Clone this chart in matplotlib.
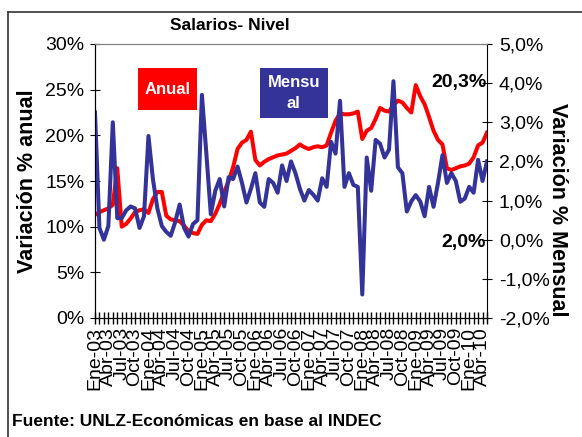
import matplotlib.pyplot as plt
from matplotlib.patches import Rectangle
from matplotlib.lines import Line2D
from matplotlib.ticker import FuncFormatter

plt.rcParams['font.family'] = ['Liberation Sans', 'DejaVu Sans']

# meses Ene-03 .. May-10
meses_abrev = ['Ene', 'Feb', 'Mar', 'Abr', 'May', 'Jun',
               'Jul', 'Ago', 'Sep', 'Oct', 'Nov', 'Dic']
periodos = [f'{m}-{a:02d}' for a in range(3, 11) for m in meses_abrev][:89]

# variación % anual (eje izquierdo)
anual = [11.3, 11.6, 11.8, 12.0, 12.4, 16.4, 10.0, 10.3, 10.9, 11.6,
         11.8, 11.9, 11.5, 13.0, 13.8, 13.8, 11.2, 10.8, 10.7, 10.6,
         10.1, 9.5, 9.3, 9.2, 10.2, 10.7, 10.6, 11.4, 12.5, 13.8,
         15.0, 16.5, 18.5, 19.2, 19.5, 20.4, 17.3, 16.7, 17.1, 17.4,
         17.6, 17.8, 17.9, 18.0, 18.3, 18.6, 19.0, 18.7, 18.5, 18.7,
         18.8, 18.7, 18.9, 20.3, 21.6, 22.4, 22.3, 22.3, 22.4, 22.6,
         19.6, 20.5, 20.8, 21.8, 23.0, 22.7, 22.6, 23.3, 23.8, 23.6,
         23.0, 22.5, 25.5, 24.3, 23.4, 22.0, 20.5, 19.5, 19.0, 16.4,
         16.2, 16.4, 16.6, 16.7, 16.9, 17.6, 18.9, 19.2, 20.3]

# variación % mensual (eje derecho)
mensual = [3.25, 0.3, 0.0, 0.35, 3.0, 0.55, 0.55, 0.75, 0.85, 0.8,
           0.3, 0.6, 2.65, 1.55, 0.8, 0.35, 0.2, 0.1, 0.45, 0.9,
           0.3, 0.08, 0.4, 0.5, 3.7, 2.2, 0.65, 1.25, 1.55, 0.85,
           1.6, 1.55, 1.87, 1.45, 0.95, 1.3, 1.7, 0.95, 0.84, 1.55,
           1.45, 1.2, 1.9, 1.5, 2.0, 1.7, 1.3, 1.0, 1.27, 1.15,
           1.0, 1.57, 1.35, 2.5, 2.2, 3.55, 1.35, 1.7, 1.4, 1.35,
           -1.4, 2.1, 1.25, 2.55, 2.45, 2.1, 2.3, 4.05, 1.85, 1.7,
           0.72, 0.98, 1.14, 0.98, 0.6, 1.35, 0.84, 1.45, 2.16, 1.45,
           1.7, 1.5, 0.97, 1.05, 1.35, 1.2, 2.04, 1.5, 2.0]

rojo = '#ff0000'
azul = '#333399'

fig = plt.figure(figsize=(5.82, 4.37), dpi=100)
ax = fig.add_axes([95 / 582, 1 - 318 / 437, 392 / 582, 274 / 437])
ax2 = ax.twinx()

x = list(range(len(periodos)))
ax.plot(x, anual, color=rojo, lw=2.9, solid_joinstyle='round')
ax2.plot(x, mensual, color=azul, lw=2.9, solid_joinstyle='round')

ax.set_xlim(0, len(periodos) - 1)
ax.set_ylim(0, 30)
ax.set_yticks(range(0, 31, 5))
ax.yaxis.set_major_formatter(FuncFormatter(lambda v, p: f'{v:.0f}%'))
ax2.set_ylim(-2, 5)
ax2.set_yticks(range(-2, 6))
ax2.yaxis.set_major_formatter(
    FuncFormatter(lambda v, p: f'{v:.1f}%'.replace('.', ',')))

ax.set_xticks(x)
ax.set_xticklabels([p if i % 3 == 0 else '' for i, p in enumerate(periodos)],
                   rotation=90)
ax.tick_params(axis='x', direction='inout', length=9, width=1,
               labelsize=14, pad=2)
ax.tick_params(axis='y', direction='inout', length=7, labelsize=14, pad=4)
ax2.tick_params(axis='y', direction='inout', length=7, labelsize=14, pad=5)

for a in (ax, ax2):
    a.spines['top'].set_color('#808080')
ax.spines['right'].set_visible(False)

# recuadros de leyenda
ax2.add_patch(Rectangle((0.110, 0.759), 0.150, 0.153, transform=ax.transAxes,
                        facecolor=rojo, edgecolor='none', zorder=5))
ax2.text(0.185, 0.835, 'Anual', transform=ax.transAxes, color='white',
         ha='center', va='center', fontsize=12, fontweight='bold', zorder=6)
ax2.add_patch(Rectangle((0.421, 0.730), 0.173, 0.182, transform=ax.transAxes,
                        facecolor=azul, edgecolor='none', zorder=5))
ax2.text(0.507, 0.821, 'Mensu\nal', transform=ax.transAxes, color='white',
         ha='center', va='center', fontsize=12, fontweight='bold',
         linespacing=1.5, zorder=6)

# últimos valores
ax.text(0.998, 0.858, f'{anual[-1]:.1f}%'.replace('.', ','),
        transform=ax.transAxes, ha='right', va='center',
        fontsize=14, fontweight='bold')
ax.text(0.998, 0.274, f'{mensual[-1]:.1f}%'.replace('.', ','),
        transform=ax.transAxes, ha='right', va='center',
        fontsize=14, fontweight='bold')

fig.text(230 / 582, 1 - 26 / 437, 'Salarios- Nivel', ha='center',
         va='center', fontsize=12.5, fontweight='bold')
fig.text(28 / 582, 1 - 181 / 437, 'Variación % anual', rotation=90,
         ha='center', va='center', fontsize=15.5, fontweight='bold')
fig.text(557 / 582, 1 - 210 / 437, 'Variación % Mensual', rotation=270,
         ha='center', va='center', fontsize=15.5, fontweight='bold')
fig.text(12 / 582, 1 - 422 / 437, 'Fuente: UNLZ-Económicas en base al INDEC',
         ha='left', va='center', fontsize=12.5, fontweight='bold')

# marco del gráfico
fig.add_artist(Line2D([8 / 582, 8 / 582], [0, 1 - 12 / 437],
                      transform=fig.transFigure, color='#333333', lw=1.2))
fig.add_artist(Line2D([8 / 582, 1], [1 - 12 / 437, 1 - 12 / 437],
                      transform=fig.transFigure, color='#333333', lw=1.2))

fig.savefig('out.png', dpi=100)
